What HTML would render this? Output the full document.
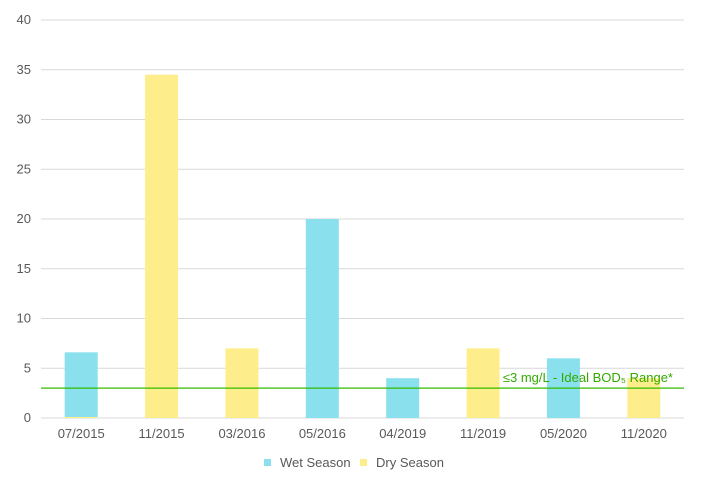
<!DOCTYPE html>
<html><head><meta charset="utf-8"><style>
body{margin:0;background:#fff;font-family:"Liberation Sans",sans-serif;}
svg text{font-family:"Liberation Sans",sans-serif;}
</style></head><body>
<svg id="chart" width="702" height="498" xmlns="http://www.w3.org/2000/svg"></svg>
<script>
const categories=["07/2015","11/2015","03/2016","05/2016","04/2019","11/2019","05/2020","11/2020"];
const wetValues=[6.5,0,0,20,4,0,6,0];
const dryValues=[0.1,34.5,7,0,0,7,0,4];
const yTicks=[0,5,10,15,20,25,30,35,40];
const thresholdValue=3;
const thresholdLabel="≤3 mg/L - Ideal BOD₅ Range*";
const NS="http://www.w3.org/2000/svg";
const svg=document.getElementById('chart');
const x0=41,x1=684,yTop=20,yBot=418,yMax=40;
const y=v=>yBot-(v/yMax)*(yBot-yTop);
const bw=(x1-x0)/categories.length;
const xc=i=>x0+bw*(i+0.5);
function mk(tag,attrs,txt){const e=document.createElementNS(NS,tag);for(const k in attrs)e.setAttribute(k,attrs[k]);if(txt!==undefined)e.textContent=txt;svg.appendChild(e);return e;}
yTicks.forEach(t=>{
 const g=mk('line',{x1:x0,x2:x1,y1:y(t),y2:y(t),stroke:'#d9d9d9','stroke-width':1});
 
 
 const l=mk('text',{x:31,y:y(t)+4,'text-anchor':'end','font-size':13,fill:'#595959'},t);
 
 
});
const barW=33;
categories.forEach((c,i)=>{
 let base=0;
 if(dryValues[i]>0){
  const r=mk('rect',{x:xc(i)-barW/2,y:y(dryValues[i]),width:barW,height:y(0)-y(dryValues[i]),fill:'#fdee8b'});
  
  
  base=dryValues[i];
 }
 if(wetValues[i]>0){
  const r=mk('rect',{x:xc(i)-barW/2,y:y(base+wetValues[i]),width:barW,height:y(base)-y(base+wetValues[i]),fill:'#8ae0ec'});
  
  
 }
 const l=mk('text',{x:xc(i),y:438,'text-anchor':'middle','font-size':13,fill:'#595959'},c);
 
 
});
const tl=mk('line',{x1:x0,x2:x1,y1:y(thresholdValue),y2:y(thresholdValue),stroke:'#33bb00','stroke-width':1.3});


const tt=mk('text',{x:673,y:y(thresholdValue)-6,'text-anchor':'end','font-size':13,fill:'#33aa00'},thresholdLabel);


const lg=[["Wet Season","#8ae0ec",264],["Dry Season","#fdee8b",360]];
lg.forEach(([n,c,x])=>{
 const r=mk('rect',{x:x,y:459,width:7,height:7,fill:c});
 
 
 const t=mk('text',{x:x+16,y:467,'font-size':13,fill:'#595959'},n);
 
 
});
</script>
</body></html>
